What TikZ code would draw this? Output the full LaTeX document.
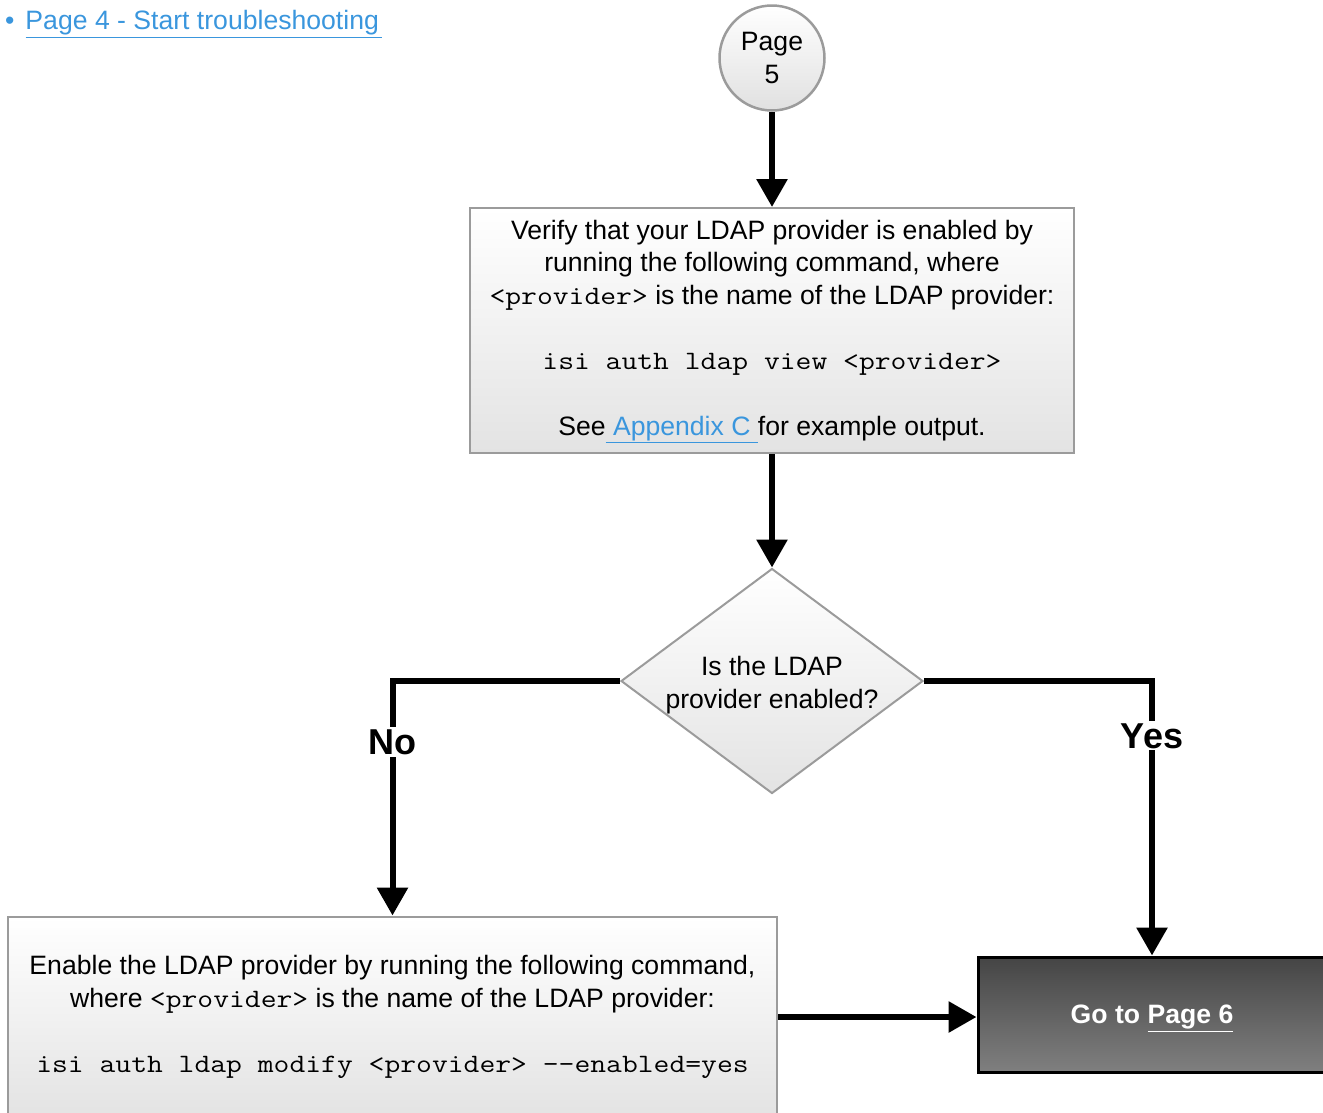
\documentclass[tikz,border=0pt]{standalone}
\usepackage{fontspec}
\setmainfont{Liberation Sans}
\newfontfamily\cmdfont{Latin Modern Mono}[FakeStretch=1.16]
\usetikzlibrary{shapes.geometric,arrows.meta}
\definecolor{linkblue}{RGB}{58,150,221}
\definecolor{edgegray}{RGB}{155,155,155}
\newcommand\cmdtext[1]{{\fontsize{26.5}{32.5}\selectfont\cmdfont #1}}
% move a line down without changing the space it takes
\newcommand\lowered[1]{\raisebox{-4pt}[\height][\depth]{#1}}

\begin{document}
\begin{tikzpicture}[x=1pt,y=-1pt,
  base/.style={font=\fontsize{26.6}{32.5}\selectfont, align=center, inner sep=0pt},
  stepbox/.style={base, rectangle, draw=edgegray, line width=2pt, top color=white, bottom color=black!11},
  flow/.style={line width=6pt, -{Triangle[length=28pt,width=30pt]}},
  answer/.style={fill=white, inner sep=2pt, font=\bfseries\fontsize{36}{40}\selectfont}]

\useasboundingbox (0,0) rectangle (1323,1112);
\clip (0,0) rectangle (1323,1112);

% back-link at the top left
\node[base, anchor=west, text=linkblue] (back) at (5,24)
  {\textbullet\hspace{11pt}\underline{Page 4 - Start troubleshooting\hspace{3pt}}};

% page connector
\node[base, circle, draw=edgegray, line width=2.5pt, top color=white, bottom color=black!12,
  minimum size=105pt] (p5) at (772,58) {Page\\5};

% verification step
\node[stepbox, minimum width=604pt, minimum height=245pt, text depth=6pt] (verify) at (772,330.5)
  {Verify that your LDAP provider is enabled by\\
   running the following command, where\\
   \cmdtext{<provider>} is the name of the LDAP provider:\\[33pt]
   \cmdtext{isi auth ldap view <provider>}\\[33pt]
   See\textcolor{linkblue}{\underline{\ Appendix C\ }}for example output.};

% decision
\node[base, diamond, draw=edgegray, line width=2pt, top color=white, bottom color=black!11,
  minimum width=302pt, minimum height=225pt, aspect=1.34] (check) at (772,681)
  {\lowered{Is the LDAP}\\\lowered{provider enabled?}};

% enable step
\node[stepbox, minimum width=769pt, minimum height=201pt] (enable) at (392.5,1017)
  {Enable the LDAP provider by running the following command,\\
   where \cmdtext{<provider>} is the name of the LDAP provider:\\[33pt]
   \cmdtext{isi auth ldap modify <provider> -{}-enabled=yes}};

% next page
\node[rectangle, draw=black, line width=3pt, top color=black!73, bottom color=black!50,
  minimum width=348pt, minimum height=115pt, inner sep=0pt, text=white,
  font=\bfseries\fontsize{26.6}{30}\selectfont] (next) at (1152,1014.5)
  {\lowered{Go to \underline{Page 6}}};

% connectors
\draw[flow] (p5) -- (verify);
\draw[flow] (verify) -- (check);
\draw[flow] (check.west) -| (enable.north) node[answer, pos=0.63] {No};
\draw[flow] (check.east) -| (next.north) node[answer, pos=0.6] {Yes};
\draw[flow] (enable.east) -- (enable.east -| next.west);

\end{tikzpicture}
\end{document}
